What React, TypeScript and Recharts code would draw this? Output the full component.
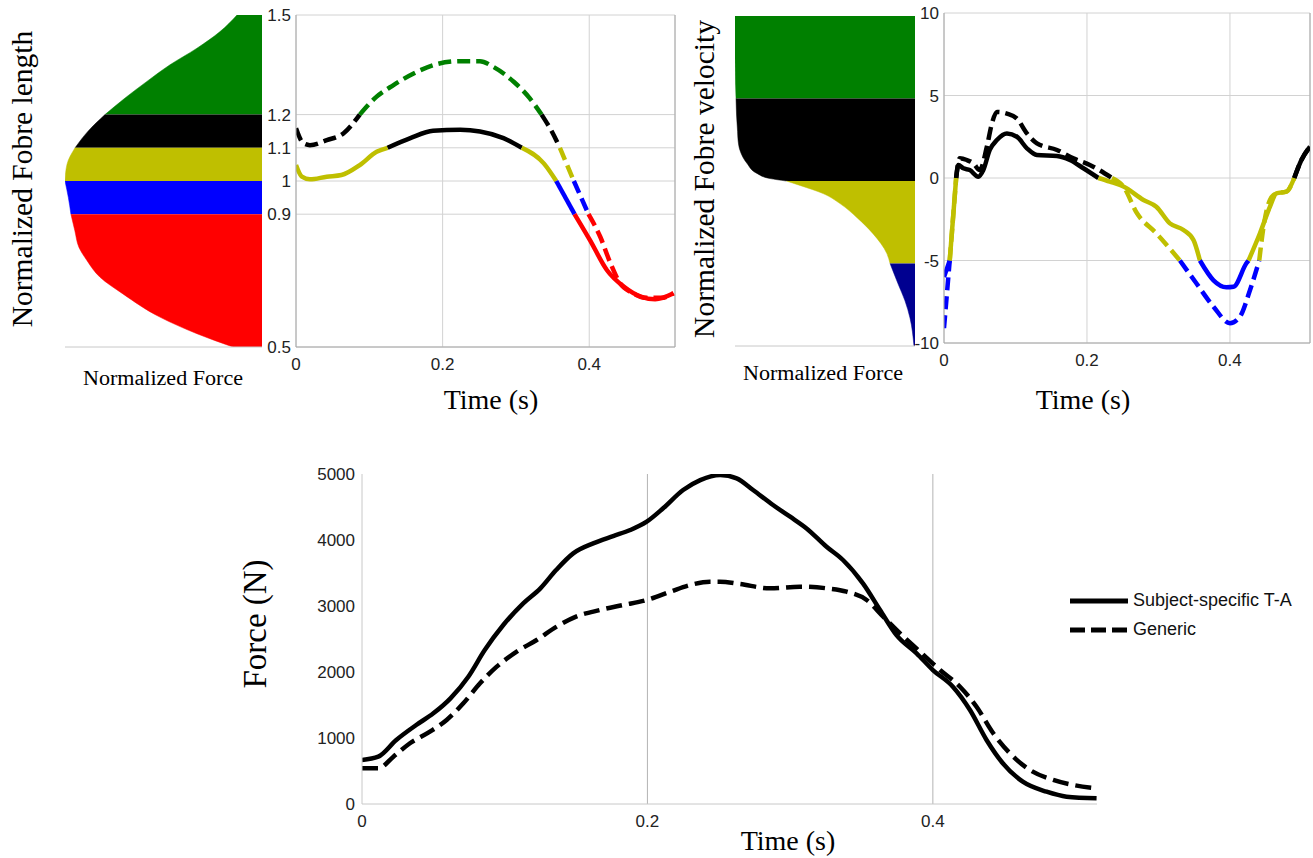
import React from "react";
import {
  ComposedChart,
  LineChart,
  Line,
  Area,
  XAxis,
  YAxis,
  CartesianGrid,
  ReferenceLine,
  Legend,
} from "recharts";

const SERIF = '"Liberation Serif", "Times New Roman", serif';
const SANS = '"Liberation Sans", Arial, sans-serif';
const GRID = "#d2d2d2";
const AXIS = "#a8a8a8";

// region colours
const GREEN = "#008000";
const BLACK = "#000000";
const OLIVE = "#bfbf00";
const BLUE = "#0000ff";
const RED = "#ff0000";
const NAVY = "#000090";

// force-length relation (normalized length -> normalized force)
const lengthLevels = [1.5, 1.45, 1.4, 1.35, 1.3, 1.25, 1.2, 1.15, 1.1, 1.05, 1.0, 0.95, 0.9, 0.85, 0.8, 0.76, 0.71, 0.66, 0.59, 0.54, 0.5];
const lengthForce = [0.127, 0.213, 0.33, 0.467, 0.584, 0.695, 0.797, 0.883, 0.949, 0.99, 1.0, 0.983, 0.97, 0.95, 0.929, 0.888, 0.822, 0.706, 0.518, 0.33, 0.147];
const lengthBandLimits = [[1.2, 1.5], [1.1, 1.2], [1.0, 1.1], [0.9, 1.0], [0.5, 0.9]];
const lengthBandColors = [GREEN, BLACK, OLIVE, BLUE, RED];

// force-velocity relation (normalized velocity -> normalized force)
const velocityLevels = [10, 7.5, 5, 4, 3, 2.46, 1.85, 1.06, 0.46, 0.15, 0, -0.27, -0.76, -1.37, -2.22, -3.19, -4.41, -5, -6.23, -7.26, -8.3, -10];
const velocityForce = [1.4, 1.4, 1.392, 1.388, 1.38, 1.376, 1.361, 1.306, 1.229, 1.128, 1.0, 0.894, 0.715, 0.583, 0.451, 0.327, 0.218, 0.194, 0.132, 0.078, 0.039, 0.008];
const velocityBandLimits = [[5, 10], [0, 5], [-5, 0], [-10, -5]];
const velocityBandColors = [GREEN, BLACK, OLIVE, NAVY];
const velocityLineColors = [GREEN, BLACK, OLIVE, BLUE];

// fibre length over time
const lenTimeSolid = [0, 0.008, 0.019, 0.042, 0.062, 0.087, 0.11, 0.125, 0.156, 0.187, 0.224, 0.251, 0.283, 0.308, 0.338, 0.355, 0.38, 0.401, 0.424, 0.447, 0.47, 0.49, 0.515];
const lenSolid = [1.048, 1.013, 1.005, 1.013, 1.018, 1.048, 1.088, 1.1, 1.129, 1.151, 1.154, 1.149, 1.129, 1.1, 1.053, 1.0, 0.9, 0.822, 0.732, 0.682, 0.652, 0.644, 0.662];
const lenTimeDashed = [0, 0.01, 0.019, 0.042, 0.065, 0.087, 0.11, 0.133, 0.165, 0.192, 0.224, 0.251, 0.269, 0.297, 0.319, 0.335, 0.349, 0.36, 0.379, 0.399, 0.415, 0.429, 0.442, 0.458, 0.478, 0.498, 0.515];
const lenDashed = [1.159, 1.114, 1.108, 1.123, 1.144, 1.2, 1.254, 1.289, 1.329, 1.352, 1.361, 1.361, 1.344, 1.299, 1.249, 1.2, 1.149, 1.1, 1.0, 0.9, 0.832, 0.752, 0.692, 0.664, 0.648, 0.648, 0.662];

// fibre velocity over time
const velTimeSolid = [0, 0.008, 0.017, 0.02, 0.027, 0.036, 0.048, 0.055, 0.064, 0.074, 0.088, 0.102, 0.116, 0.13, 0.158, 0.176, 0.195, 0.216, 0.232, 0.251, 0.279, 0.297, 0.316, 0.335, 0.349, 0.358, 0.377, 0.395, 0.405, 0.423, 0.426, 0.442, 0.456, 0.465, 0.479, 0.49, 0.5, 0.512];
const velSolid = [-6, -5, 0, 0.79, 0.59, 0.48, 0.08, 0.48, 1.7, 2.3, 2.7, 2.5, 1.8, 1.39, 1.33, 1.09, 0.59, 0, -0.22, -0.52, -1.33, -1.74, -2.75, -3.15, -3.76, -5, -6.2, -6.62, -6.59, -5.17, -5, -3.35, -1.74, -0.93, -0.83, 0, 1.09, 1.9];
const velTimeDashed = [0, 0.008, 0.017, 0.022, 0.032, 0.041, 0.05, 0.06, 0.067, 0.074, 0.088, 0.102, 0.116, 0.13, 0.158, 0.181, 0.204, 0.235, 0.251, 0.27, 0.297, 0.33, 0.353, 0.377, 0.4, 0.414, 0.428, 0.441, 0.447, 0.456, 0.465, 0.479, 0.49, 0.5, 0.512];
const velDashed = [-9.1, -5, 0, 1.19, 1.09, 0.89, 0.48, 1.9, 3.3, 4.0, 3.9, 3.6, 2.7, 2.1, 1.7, 1.19, 0.79, 0, -0.52, -2.14, -3.35, -5, -6.38, -7.8, -8.8, -8.4, -6.8, -5, -2.95, -1.33, -0.93, -0.83, 0, 1.09, 1.9];

// muscle force over time
const forceTimeSpecific = [0, 0.0114, 0.024, 0.038, 0.05, 0.062, 0.0745, 0.086, 0.099, 0.113, 0.125, 0.136, 0.148, 0.162, 0.176, 0.188, 0.1995, 0.211, 0.225, 0.237, 0.251, 0.2625, 0.274, 0.288, 0.3, 0.3115, 0.3255, 0.337, 0.351, 0.363, 0.3745, 0.3886, 0.4, 0.414, 0.426, 0.4376, 0.449, 0.463, 0.4797, 0.4937, 0.5147];
const forceSpecific = [667, 717, 970, 1197, 1374, 1601, 1929, 2333, 2712, 3040, 3268, 3545, 3798, 3949, 4060, 4151, 4277, 4480, 4757, 4908, 4984, 4934, 4757, 4530, 4353, 4176, 3898, 3697, 3343, 2939, 2560, 2283, 2030, 1777, 1424, 970, 617, 338, 186, 111, 86];
const forceTimeGeneric = [0, 0.0114, 0.022, 0.0336, 0.0476, 0.0593, 0.071, 0.0827, 0.0944, 0.1084, 0.1224, 0.1364, 0.15, 0.1667, 0.183, 0.1995, 0.216, 0.2298, 0.2438, 0.2508, 0.2648, 0.2858, 0.3068, 0.3255, 0.3395, 0.3536, 0.3652, 0.377, 0.391, 0.405, 0.419, 0.4306, 0.4423, 0.454, 0.468, 0.4843, 0.4983, 0.5147];
const forceGeneric = [541, 541, 717, 920, 1096, 1273, 1526, 1829, 2081, 2308, 2485, 2687, 2839, 2939, 3015, 3091, 3217, 3318, 3368, 3368, 3333, 3268, 3293, 3268, 3217, 3091, 2839, 2586, 2308, 2030, 1777, 1474, 1071, 768, 515, 364, 288, 238];
const legendNames = ["Subject-specific T-A", "Generic"];

const lengthTicks = [0.5, 0.9, 1, 1.1, 1.2, 1.5];
const velocityTicks = [-10, -5, 0, 5, 10];
const forceTicks = [0, 1000, 2000, 3000, 4000, 5000];
const timeTicks = [0, 0.2, 0.4];

const tickStyle = { fontSize: 17, fill: "#222", fontFamily: SANS };

type Seg = { color: string; data: { t: number; v: number }[] };

// split a trace into runs that fall inside the same region
function segmentsOf(ts: number[], vs: number[], limits: number[][], colors: string[]): Seg[] {
  const segs: Seg[] = [];
  for (let i = 0; i < ts.length - 1; i++) {
    const mid = (vs[i] + vs[i + 1]) / 2;
    let k = limits.findIndex(([lo, hi]) => mid >= lo && mid <= hi);
    if (k < 0) k = mid > limits[0][1] ? 0 : limits.length - 1;
    const last = segs[segs.length - 1];
    if (last && last.color === colors[k]) last.data.push({ t: ts[i + 1], v: vs[i + 1] });
    else
      segs.push({
        color: colors[k],
        data: [
          { t: ts[i], v: vs[i] },
          { t: ts[i + 1], v: vs[i + 1] },
        ],
      });
  }
  return segs;
}

function bandRows(levels: number[], force: number[], limits: number[][]) {
  return levels.map((y, i) => {
    const row: Record<string, number> = { y };
    limits.forEach(([lo, hi], k) => {
      if (y >= lo - 1e-9 && y <= hi + 1e-9) row["b" + k] = force[i];
    });
    return row;
  });
}

const title =
  (text: string, x: number, y: number, size: number, vertical = false, length?: number) =>
  () =>
    (
      <text
        x={x}
        y={y}
        textAnchor="middle"
        dominantBaseline="central"
        transform={vertical ? `rotate(-90 ${x} ${y})` : undefined}
        textLength={length}
        lengthAdjust={length ? "spacingAndGlyphs" : undefined}
        style={{ fontFamily: SERIF, fontSize: size, fill: "#000" }}
      >
        {text}
      </text>
    );

function BandChart(props: {
  left: number;
  width: number;
  top: number;
  rows: Record<string, number>[];
  colors: string[];
  yDomain: number[];
  xMax: number;
  yWidth: number;
  plotH: number;
  yTitle: () => React.ReactElement;
  xTitle: () => React.ReactElement;
}) {
  const height = 400;
  return (
    <div style={{ position: "absolute", left: props.left, top: 0 }}>
      <ComposedChart
        layout="vertical"
        width={props.width}
        height={height}
        data={props.rows}
        margin={{ top: props.top, right: 3, bottom: 0, left: 0 }}
      >
        <XAxis
          type="number"
          domain={[0, props.xMax]}
          reversed
          allowDataOverflow
          tick={false}
          tickLine={false}
          height={height - props.top - props.plotH}
          axisLine={{ stroke: "#c8c8c8" }}
          label={props.xTitle}
        />
        <YAxis
          type="number"
          dataKey="y"
          domain={props.yDomain}
          reversed
          allowDataOverflow
          tick={false}
          tickLine={false}
          axisLine={false}
          width={props.yWidth}
          label={props.yTitle}
        />
        {props.colors.map((c, k) => (
          <Area
            key={k}
            dataKey={"b" + k}
            type="monotone"
            fill={c}
            fillOpacity={1}
            stroke={c}
            strokeWidth={0.5}
            isAnimationActive={false}
          />
        ))}
      </ComposedChart>
    </div>
  );
}

function TracePanel(props: {
  left: number;
  width: number;
  top: number;
  plotH: number;
  xMax: number;
  yDomain: number[];
  yTicks: number[];
  segs: { seg: Seg; dashed: boolean }[];
  xTitle: () => React.ReactElement;
}) {
  const height = 420;
  return (
    <div style={{ position: "absolute", left: props.left, top: 0 }}>
      <LineChart width={props.width} height={height} margin={{ top: props.top, right: 3, bottom: 0, left: 0 }}>
        <CartesianGrid stroke={GRID} />
        <XAxis
          type="number"
          dataKey="t"
          domain={[0, props.xMax]}
          ticks={timeTicks}
          allowDataOverflow
          height={height - props.top - props.plotH}
          tickLine={false}
          tickSize={0}
          tickMargin={11}
          axisLine={{ stroke: AXIS }}
          tick={tickStyle}
          label={props.xTitle}
        />
        <YAxis
          type="number"
          domain={props.yDomain}
          ticks={props.yTicks}
          interval={0}
          allowDataOverflow
          width={60}
          tickLine={false}
          tickSize={0}
          tickMargin={5}
          axisLine={{ stroke: AXIS }}
          tick={tickStyle}
        />
        <ReferenceLine x={props.xMax} stroke={AXIS} />
        {props.segs.map(({ seg, dashed }, i) => (
          <Line
            key={i}
            data={seg.data}
            dataKey="v"
            type="monotone"
            stroke={seg.color}
            strokeWidth={4.5}
            strokeDasharray={dashed ? "13 6" : undefined}
            dot={false}
            activeDot={false}
            isAnimationActive={false}
            legendType="none"
          />
        ))}
      </LineChart>
    </div>
  );
}

const lengthSegs = [
  ...segmentsOf(lenTimeSolid, lenSolid, lengthBandLimits, lengthBandColors).map((seg) => ({ seg, dashed: false })),
  ...segmentsOf(lenTimeDashed, lenDashed, lengthBandLimits, lengthBandColors).map((seg) => ({ seg, dashed: true })),
];
const velocitySegs = [
  ...segmentsOf(velTimeSolid, velSolid, velocityBandLimits, velocityLineColors).map((seg) => ({ seg, dashed: false })),
  ...segmentsOf(velTimeDashed, velDashed, velocityBandLimits, velocityLineColors).map((seg) => ({ seg, dashed: true })),
];

const specificData = forceTimeSpecific.map((t, i) => ({ t, v: forceSpecific[i] }));
const genericData = forceTimeGeneric.map((t, i) => ({ t, v: forceGeneric[i] }));

const renderLegend = () => (
  <div>
    {legendNames.map((n, i) => (
      <div key={n} style={{ display: "flex", alignItems: "center", height: 29 }}>
        <svg width={58} height={10}>
          <line x1={0} y1={5} x2={58} y2={5} stroke="#000" strokeWidth={5} strokeDasharray={i === 1 ? "15 6" : undefined} />
        </svg>
        <span style={{ marginLeft: 5, fontFamily: SANS, fontSize: 18, color: "#111" }}>{n}</span>
      </div>
    ))}
  </div>
);

export default function App() {
  return (
    <div style={{ position: "absolute", left: 0, top: 0, width: 1313, height: 858, background: "#fff" }}>
      <BandChart
        left={0}
        width={265}
        top={15}
        plotH={332}
        rows={bandRows(lengthLevels, lengthForce, lengthBandLimits)}
        colors={lengthBandColors}
        yDomain={[0.5, 1.5]}
        xMax={1}
        yWidth={65}
        yTitle={title("Normalized Fobre length", 22, 179, 29.5, true)}
        xTitle={title("Normalized Force", 163, 378, 20, false, 160)}
      />
      <TracePanel
        left={236}
        width={442}
        top={15}
        plotH={332}
        xMax={0.517}
        yDomain={[0.5, 1.5]}
        yTicks={lengthTicks}
        segs={lengthSegs}
        xTitle={title("Time (s)", 255, 399, 28)}
      />
      <BandChart
        left={680}
        width={238}
        top={16}
        plotH={330}
        rows={bandRows(velocityLevels, velocityForce, velocityBandLimits)}
        colors={velocityBandColors}
        yDomain={[-10, 10]}
        xMax={1.4}
        yWidth={55}
        yTitle={title("Normalized Fobre velocity", 24, 179, 29.5, true)}
        xTitle={title("Normalized Force", 143, 373, 20, false, 160)}
      />
      <TracePanel
        left={884}
        width={429}
        top={13}
        plotH={330}
        xMax={0.512}
        yDomain={[-10, 10]}
        yTicks={velocityTicks}
        segs={velocitySegs}
        xTitle={title("Time (s)", 199, 399, 28)}
      />
      <div style={{ position: "absolute", left: 232, top: 464 }}>
        <LineChart width={1081} height={394} margin={{ top: 10, right: 216, bottom: 0, left: 0 }}>
          <XAxis
            type="number"
            dataKey="t"
            domain={[0, 0.515]}
            ticks={timeTicks}
            allowDataOverflow
            height={54}
            tickLine={false}
            tickSize={0}
            tickMargin={11}
            axisLine={{ stroke: "#c8c8c8" }}
            tick={tickStyle}
            label={title("Time (s)", 556, 376, 28)}
          />
          <YAxis
            type="number"
            domain={[0, 5000]}
            ticks={forceTicks}
            interval={0}
            allowDataOverflow
            width={130}
            tickLine={false}
            tickSize={0}
            tickMargin={7}
            axisLine={{ stroke: "#c8c8c8" }}
            tick={tickStyle}
            label={title("Force (N)", 23, 160, 33, true)}
          />
          {timeTicks.slice(1).map((t) => (
            <ReferenceLine key={t} x={t} stroke="#a0a0a0" strokeWidth={0.8} />
          ))}
          <Line
            data={specificData}
            dataKey="v"
            name={legendNames[0]}
            type="monotone"
            stroke="#000"
            strokeWidth={4.5}
            dot={false}
            activeDot={false}
            isAnimationActive={false}
          />
          <Line
            data={genericData}
            dataKey="v"
            name={legendNames[1]}
            type="monotone"
            stroke="#000"
            strokeWidth={4.5}
            strokeDasharray="16 7"
            dot={false}
            activeDot={false}
            isAnimationActive={false}
          />
          <Legend
            layout="vertical"
            align="center"
            verticalAlign="middle"
            wrapperStyle={{ left: 838, top: 122, width: 240, height: 60 }}
            content={renderLegend}
          />
        </LineChart>
      </div>
    </div>
  );
}
